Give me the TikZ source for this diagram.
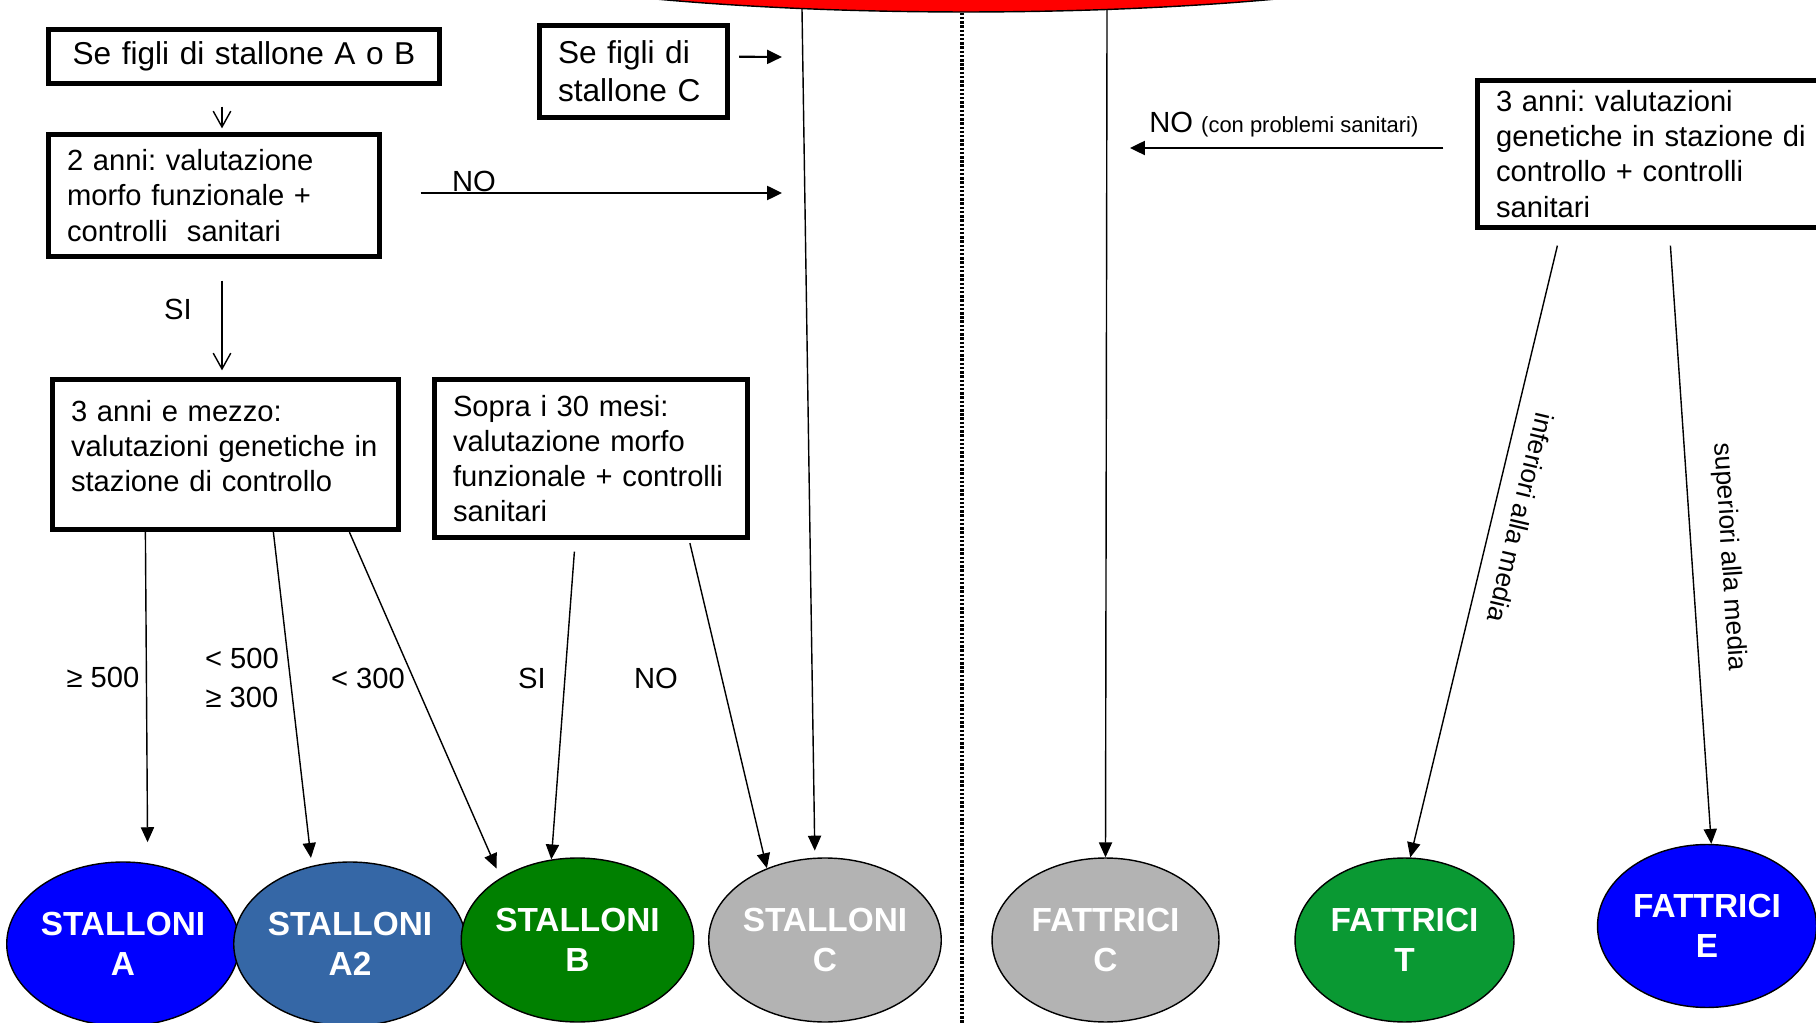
\documentclass[tikz,border=0pt]{standalone}
\usepackage{fontspec}
\setmainfont{Liberation Sans}
\usetikzlibrary{shapes.geometric,arrows.meta,calc}
\frenchspacing

\definecolor{stalA}{RGB}{0,0,255}
\definecolor{stalAtwo}{RGB}{53,103,166}
\definecolor{stalB}{RGB}{0,128,0}
\definecolor{grigio}{RGB}{179,179,179}
\definecolor{fatT}{RGB}{10,153,51}

\tikzset{
  box/.style={draw=black, line width=3pt, rectangle, inner xsep=0.37cm, inner ysep=0pt,
    align=left, font=\fontsize{16.6}{20}\selectfont},
  cavallo/.style={ellipse, draw=black, line width=0.8pt, inner sep=0pt,
    minimum width=4.54cm, minimum height=3.28cm, text=white, align=center,
    font=\bfseries\fontsize{19}{22.8}\selectfont},
  conn/.style={line width=0.8pt, -{Triangle[length=8.5pt,width=7.5pt]}},
  thickconn/.style={line width=1.2pt, -{Triangle[length=8.5pt,width=8pt]}},
  openconn/.style={line width=0.8pt, -{Straight Barb[length=9pt,width=10pt]}},
  etich/.style={font=\fontsize{16.6}{20}\selectfont, inner sep=0pt, anchor=base},
  ruotato/.style={font=\fontsize{15}{18}\selectfont, inner sep=0pt}
}

\begin{document}
\begin{tikzpicture}[x=0.02cm, y=-0.02cm]
\useasboundingbox (0,0) rectangle (1816,1023);
\clip (0,0) rectangle (1816,1023);
% red ellipse on top, only its lower edge shows
\node[ellipse, draw=black, line width=0.8pt, fill=red, inner sep=0pt,
  minimum width=24cm, minimum height=3.6cm] (origine) at (966,-78) {};
\coordinate (fondo) at (962,1023);
\draw[line width=2pt, dash pattern=on 1.4pt off 1pt] (origine.south -| fondo) -- (fondo);

% boxes
\node[box, font=\fontsize{18}{21.6}\selectfont, align=center, text width=7.08cm,
  minimum height=1.08cm] (figliAB) at (244,56.5) {Se figli di stallone A o B};
\node[box, font=\fontsize{18}{21.6}\selectfont, text width=3.02cm,
  minimum height=1.84cm] (figliC) at (633.5,71.5) {Se figli di\\stallone C};
\node[box, text width=5.88cm, minimum height=2.44cm] (dueanni) at (214,195.5)
  {2 anni: valutazione\\morfo funzionale +\\controlli\ \ sanitari};
\node[box, text width=6.18cm, minimum height=3.0cm] (tremezzo) at (225.5,454.5)
  {3 anni e mezzo:\\valutazioni genetiche in\\stazione di controllo\\[-10pt]\mbox{}};
\node[box, text width=5.52cm, minimum height=3.16cm] (sopra) at (591,458.5)
  {Sopra i 30 mesi:\\valutazione morfo\\funzionale + controlli\\sanitari};
\node[box, text width=6.46cm, minimum height=2.94cm] (treanni) at (1657.5,154)
  {3 anni: valutazioni\\genetiche in stazione di\\controllo + controlli\\sanitari};

% categories
\node[cavallo, fill=stalA] (SA) at (123,944) {STALLONI\\A};
\node[cavallo, fill=stalAtwo] (SAtwo) at (350,944) {STALLONI\\A2};
\node[cavallo, fill=stalB] (SB) at (577.5,940) {STALLONI\\B};
\node[cavallo, fill=grigio] (SC) at (825,940) {STALLONI\\C};
\node[cavallo, fill=grigio] (FC) at (1105.5,940) {FATTRICI\\C};
\node[cavallo, fill=fatT, minimum width=4.38cm] (FT) at (1404.5,940) {FATTRICI\\T};
\node[cavallo, fill=stalA, minimum width=4.38cm, minimum height=3.26cm] (FE) at (1707,926) {FATTRICI\\E};

% free ends
\coordinate (daC) at (782,57);
\coordinate (noC) at (782,193);
\coordinate (probC) at (1130,148);

% connectors
\draw[openconn] ($(figliAB.south)+(-22,20.5)$) -- ($(dueanni.north)+(8,-3.5)$);
\draw[openconn] ($(dueanni.south)+(8,21.5)$) -- ($(tremezzo.north)+(-3.5,-6.5)$);
\draw[thickconn] ($(figliC.east)+(9,-14.8)$) -- (daC);
\draw[thickconn] ($(dueanni.east)+(38.5,-2.5)$) -- (noC);
\draw[thickconn] ($(treanni.west)+(-31.5,-6)$) -- (probC);
\draw[conn, shorten >=0.14cm] (origine.208.6) -- (SC.97);
\draw[conn] (origine.328) -- (FC.north);
\draw[conn, shorten >=0.42cm] ($(tremezzo.south west)+(95.5,0)$) -- (SA.73);
\draw[conn, shorten >=0.16cm] ($(tremezzo.south west)+(223.5,0)$) -- (SAtwo.116);
\draw[conn, shorten >=0.2cm] ($(tremezzo.south west)+(299.5,0)$) -- (SB.141);
\draw[conn] ($(sopra.south west)+(142.5,11.5)$) -- (SB.108);
\draw[conn] ($(sopra.south west)+(258,3)$) -- (SC.129);
\draw[conn] ($(treanni.south west)+(82.5,15.5)$) -- (FT.86);
\draw[conn] ($(treanni.south west)+(195.5,15.5)$) -- (FE.87);

% labels
\node[etich] (lSIa) at (178,320) {SI};
\node[etich] (lNOa) at (474,192) {NO};
\node[etich, anchor=base west] (lNOb) at (1149,133) {NO {\fontsize{12.5}{15}\selectfont (con problemi sanitari)}};
\node[etich] (lpiu) at (103,687) {≥ 500};
\node[etich] (lmezzoa) at (242,668) {< 500};
\node[etich] (lmezzob) at (242,707) {≥ 300};
\node[etich] (lmeno) at (368,688) {< 300};
\node[etich] (lSIb) at (532,688) {SI};
\node[etich] (lNOc) at (656,688) {NO};
\node[ruotato, rotate=-103.3] (linf) at (1521,518) {inferiori alla media};
\node[ruotato, rotate=-86.3] (lsup) at (1729,557) {superiori alla media};
\end{tikzpicture}
\end{document}
